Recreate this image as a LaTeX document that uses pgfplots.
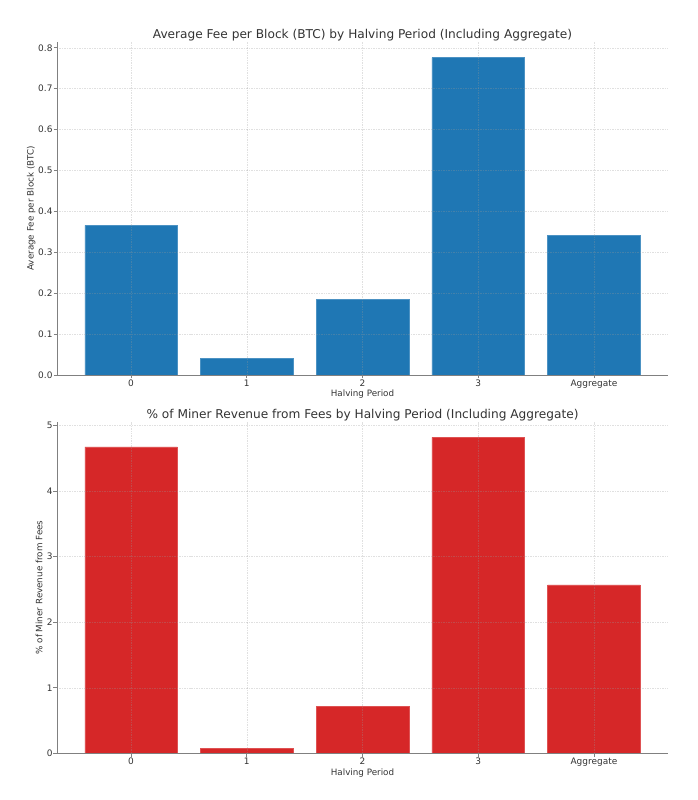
\documentclass[border=0pt]{standalone}
\usepackage{fontspec}
\setmainfont{DejaVu Sans}
\usepackage{pgfplots}
\pgfplotsset{compat=1.18}
\definecolor{mblue}{HTML}{1F77B4}
\definecolor{mred}{HTML}{D62728}
\definecolor{spine}{HTML}{808080}
\definecolor{txt}{HTML}{333333}
\pgfplotsset{
  mystyle/.style={
    scale only axis,
    width=611bp,
    xmin=-0.64, xmax=4.64,
    ymin=0,
    xtick={0,1,2,3,4},
    xticklabels={0,1,2,3,Aggregate},
    axis lines*=left,
    axis line style={spine, line width=0.8pt},
    every axis line/.append style={-},
    tick style={spine, line width=0.6pt},
    tick align=outside,
    major tick length=3.5bp,
    ticklabel style={font=\fontsize{9}{10}\selectfont, text=txt},
    xticklabel style={yshift=2bp},
    yticklabel style={xshift=2.5bp},
    /pgf/number format/assume math mode=true,
    xmajorgrids, ymajorgrids,
    major grid style={dash pattern=on 1.5pt off 1pt, line width=0.4pt, color=gray!80, opacity=0.3},
    axis on top,
    title style={font=\fontsize{12.2}{14}\selectfont, text=txt, yshift=-8.5bp},
    label style={font=\fontsize{8.8}{10}\selectfont, text=txt},
    xlabel style={yshift=5bp},
    ybar, bar width=0.8,
  }
}
\begin{document}
\begin{tikzpicture}
\path[use as bounding box] (0,0) rectangle (698bp,800bp);
\begin{axis}[mystyle,
  at={(57bp,425bp)}, anchor=south west,
  height=333.3bp,
  ymax=0.8148,
  ytick={0,0.1,...,0.8},
  yticklabel style={/pgf/number format/fixed, /pgf/number format/precision=1, /pgf/number format/fixed zerofill},
  title={Average Fee per Block (BTC) by Halving Period (Including Aggregate)},
  xlabel={Halving Period},
  ylabel={Average Fee per Block (BTC)},
  ylabel style={yshift=-4bp},
]
\addplot[fill=mblue, draw=mblue!80!white, line width=0.4pt] coordinates {(0,0.366) (1,0.041) (2,0.185) (3,0.776) (4,0.342)};
\end{axis}
\begin{axis}[mystyle,
  at={(57bp,46.7bp)}, anchor=south west,
  height=331.6bp,
  ymax=5.06,
  ytick={0,1,2,3,4,5},
  title={\% of Miner Revenue from Fees by Halving Period (Including Aggregate)},
  xlabel={Halving Period},
  ylabel={\% of Miner Revenue from Fees},
  ylabel style={yshift=-2.5bp},
]
\addplot[fill=mred, draw=mred!80!white, line width=0.4pt] coordinates {(0,4.675) (1,0.076) (2,0.72) (3,4.82) (4,2.57)};
\end{axis}
\end{tikzpicture}
\end{document}
